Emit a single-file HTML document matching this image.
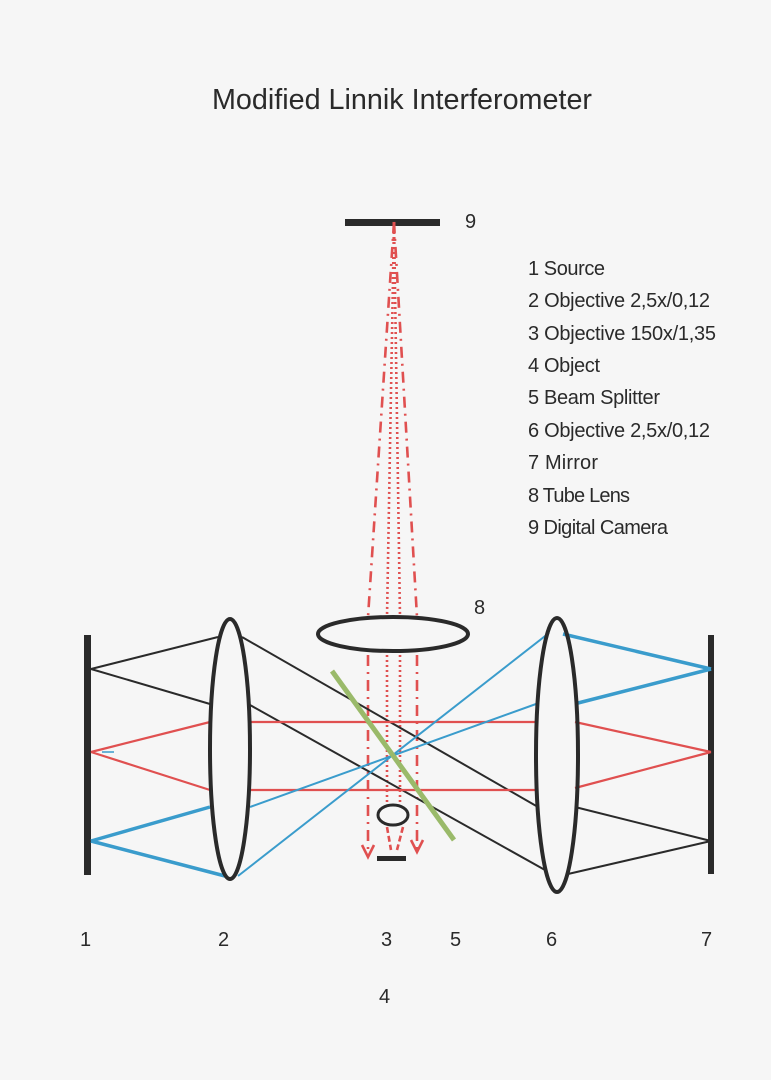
<!DOCTYPE html>
<html><head><meta charset="utf-8"><style>
html,body{margin:0;padding:0;background:#f6f6f6;}
svg{display:block;}
text{font-family:"Liberation Sans",sans-serif;fill:#2a2a2a;}
</style></head><body>
<svg width="771" height="1080" viewBox="0 0 771 1080" xmlns="http://www.w3.org/2000/svg">
<rect width="771" height="1080" fill="#f6f6f6"/>
<text x="212" y="109" font-size="29" textLength="380" lengthAdjust="spacingAndGlyphs">Modified Linnik Interferometer</text>
<g font-size="20" lengthAdjust="spacingAndGlyphs">
<text x="528" y="275" textLength="77">1  Source</text>
<text x="528" y="307" textLength="182">2 Objective 2,5x/0,12</text>
<text x="528" y="340" textLength="188">3 Objective 150x/1,35</text>
<text x="528" y="372" textLength="72">4 Object</text>
<text x="528" y="404" textLength="132">5 Beam Splitter</text>
<text x="528" y="437" textLength="182">6 Objective 2,5x/0,12</text>
<text x="528" y="469" textLength="70">7 Mirror</text>
<text x="528" y="502" textLength="102">8 Tube Lens</text>
<text x="528" y="534" textLength="140">9 Digital Camera</text>
</g>
<g font-size="20">
<text x="465" y="228">9</text>
<text x="474" y="614">8</text>
<text x="80" y="946">1</text>
<text x="218" y="946">2</text>
<text x="381" y="946">3</text>
<text x="450" y="946">5</text>
<text x="546" y="946">6</text>
<text x="701" y="946">7</text>
<text x="379" y="1003">4</text>
</g>
<rect x="345" y="219" width="95" height="7" fill="#2a2a2a"/>
<g stroke="#e05050" stroke-width="2.6" fill="none">
<line x1="394" y1="222" x2="368" y2="617" stroke-dasharray="11,6,2,6"/>
<line x1="394" y1="222" x2="417" y2="617" stroke-dasharray="11,6,2,6"/>
<line x1="394" y1="222" x2="387" y2="617" stroke-dasharray="2,3"/>
<line x1="394" y1="222" x2="400" y2="617" stroke-dasharray="2,3"/>
<line x1="368" y1="655" x2="368" y2="855" stroke-dasharray="11,6,2,6"/>
<line x1="417" y1="655" x2="417" y2="850" stroke-dasharray="11,6,2,6"/>
<line x1="387" y1="655" x2="387" y2="804" stroke-dasharray="2,3"/>
<line x1="400" y1="655" x2="400" y2="804" stroke-dasharray="2,3"/>
<line x1="387" y1="827" x2="391" y2="850" stroke-dasharray="6,3"/>
<line x1="403" y1="827" x2="397" y2="850" stroke-dasharray="6,3"/>
<polyline points="362,845 368,857 374,845"/>
<polyline points="411,840 417,852 423,840"/>
</g>
<rect x="84" y="635" width="7" height="240" fill="#2a2a2a"/>
<rect x="708" y="635" width="6" height="239" fill="#2a2a2a"/>
<g stroke="#2a2a2a" stroke-width="2" fill="none">
<line x1="91" y1="669" x2="218" y2="637"/>
<line x1="91" y1="669" x2="210" y2="704"/>
<line x1="242" y1="637" x2="538" y2="807"/>
<line x1="250" y1="705" x2="545" y2="870"/>
<line x1="575" y1="807" x2="711" y2="841"/>
<line x1="568" y1="874" x2="711" y2="841"/>
</g>
<g stroke="#e05050" stroke-width="2.2" fill="none">
<line x1="91" y1="752" x2="210" y2="722"/>
<line x1="91" y1="752" x2="210" y2="790"/>
<line x1="250" y1="722" x2="536" y2="722"/>
<line x1="250" y1="790" x2="536" y2="790"/>
<line x1="575" y1="722" x2="711" y2="752"/>
<line x1="575" y1="788" x2="711" y2="752"/>
</g>
<g stroke="#3a9ccc" fill="none">
<line x1="91" y1="841" x2="210" y2="807" stroke-width="3.5"/>
<line x1="91" y1="841" x2="225" y2="876" stroke-width="3.5"/>
<line x1="250" y1="807" x2="536" y2="704" stroke-width="2"/>
<line x1="238" y1="876" x2="549" y2="633" stroke-width="2"/>
<line x1="563" y1="634" x2="711" y2="669" stroke-width="3.5"/>
<line x1="578" y1="703" x2="711" y2="669" stroke-width="3.5"/>
<line x1="102" y1="752" x2="114" y2="752" stroke-width="1.5"/>
</g>
<g stroke="#2a2a2a" stroke-width="4" fill="none">
<ellipse cx="230" cy="749" rx="20" ry="130"/>
<ellipse cx="557" cy="755" rx="21" ry="137"/>
<ellipse cx="393" cy="634" rx="75" ry="17"/>
<ellipse cx="393" cy="815" rx="15" ry="10" stroke-width="3"/>
</g>
<line x1="332" y1="671" x2="454" y2="840" stroke="#9aba6a" stroke-width="5"/>
<rect x="377" y="856" width="29" height="5" fill="#2a2a2a"/>
</svg>
</body></html>
